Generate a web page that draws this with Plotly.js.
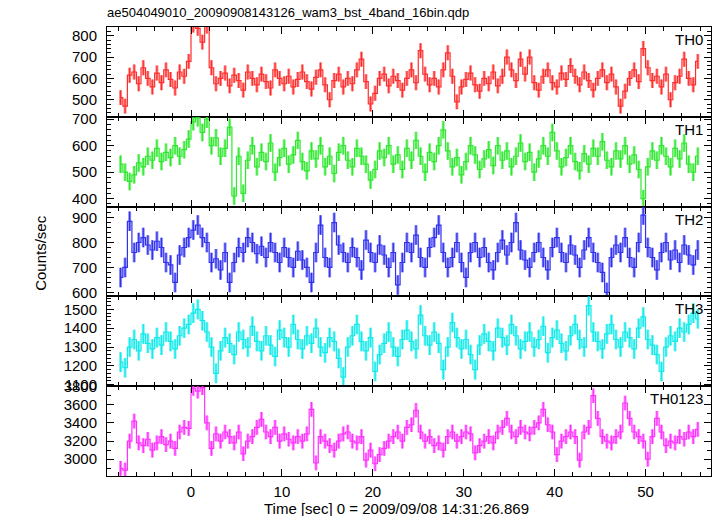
<!DOCTYPE html>
<html><head><meta charset="utf-8">
<script src="https://cdn.plot.ly/plotly-3.0.1.min.js"></script>
<style>body{margin:0;padding:0;background:#fff}#chart{width:717px;height:516px}</style>
</head><body><div id="chart"></div>
<script>
// time grid of the light curve: bin centres start and bin width [sec]
const binStart = -7.75;
const binWidth = 0.5;

const panelNames = ['TH0', 'TH1', 'TH2', 'TH3', 'TH0123'];

const th0 = [510,470,615,630,575,650,600,560,625,580,
640,595,555,630,610,680,850,835,770,845,
650,575,600,625,565,615,590,545,630,600,
570,620,585,555,640,600,575,610,560,595,
630,585,550,605,640,570,500,590,620,560,
600,575,640,690,585,480,530,600,620,565,
610,590,545,600,640,580,730,620,570,600,
560,640,720,610,490,560,595,625,570,540,
600,575,630,565,610,700,640,590,690,620,
700,580,545,610,640,580,560,625,595,660,
610,570,630,590,545,600,640,580,620,560,
470,540,600,640,585,740,650,590,610,560,
620,500,580,610,690,600,570,680];

const th1 = [530,500,465,490,535,520,560,545,590,540,
575,555,600,560,585,625,690,705,650,700,
600,630,560,590,670,410,560,420,545,600,
520,575,540,610,500,555,590,530,565,620,
540,505,580,550,600,520,560,495,575,600,
545,520,590,560,530,470,510,580,555,600,
530,565,510,590,545,620,560,500,575,540,
600,660,580,520,555,490,540,600,565,510,
550,585,525,600,545,580,520,560,610,540,
575,500,550,600,560,650,580,520,555,600,
540,505,570,530,590,560,615,545,520,580,
550,600,530,565,510,400,520,580,545,600,
560,520,590,550,610,530,500,560];

const th2 = [660,700,885,760,800,820,790,770,805,780,
720,710,640,750,780,820,850,870,820,800,
720,735,690,760,640,720,780,760,820,800,
755,785,740,800,760,720,780,740,700,765,
730,700,640,760,870,740,700,880,790,760,
720,780,740,690,810,760,720,790,750,700,
760,630,720,800,760,830,740,700,780,820,
870,760,700,740,800,720,660,760,800,740,
780,720,690,760,810,750,800,880,770,730,
700,760,800,740,690,780,820,760,720,790,
750,700,770,820,760,720,680,600,740,790,
760,820,740,700,800,910,780,740,690,760,
800,730,770,720,790,750,710,770];

const th3 = [1220,1190,1300,1340,1280,1370,1320,1290,1350,1310,
1380,1330,1290,1360,1400,1420,1480,1500,1440,1380,
1300,1160,1280,1350,1320,1260,1380,1340,1300,1410,
1330,1280,1360,1310,1250,1390,1350,1300,1420,1340,
1290,1360,1320,1400,1300,1270,1350,1330,1240,1140,
1300,1360,1420,1330,1280,1350,1170,1260,1320,1380,
1300,1250,1340,1390,1330,1290,1470,1360,1310,1380,
1320,1180,1300,1430,1350,1290,1340,1260,1180,1310,
1370,1330,1280,1400,1350,1310,1420,1360,1290,1330,
1380,1300,1340,1410,1270,1350,1390,1320,1280,1360,
1420,1340,1300,1520,1380,1330,1290,1370,1420,1340,
1300,1380,1350,1290,1400,1460,1340,1310,1260,1170,
1300,1360,1330,1400,1380,1420,1480,1450];

const th0123 = [2900,2880,3200,3420,3180,3150,3220,3100,3180,3250,
3160,3200,3120,3300,3350,3340,3780,3750,3790,3400,
3120,3280,3200,3300,3250,3180,3300,3060,3200,3250,
3350,3440,3300,3250,3350,3200,3280,3220,3180,3250,
3200,3280,3550,2960,3250,3200,3150,3100,3200,3280,
3300,3200,3180,3250,2990,3100,2950,3050,3120,3200,
3250,3300,3200,3350,3380,3540,3300,3200,3250,3150,
3180,3100,3250,3300,3200,3250,3300,3280,3070,3150,
3200,3250,3180,3300,3350,3450,3300,3250,3350,3300,
3280,3350,3400,3550,3380,3300,3050,3200,3250,3300,
3250,2990,3300,3350,3700,3450,3250,3200,3180,3250,
3300,3620,3450,3300,3250,3200,3000,3250,3450,3300,
3150,3200,3180,3250,3220,3300,3250,3330];

// 1-sigma errors (counts/sec) per band
const errors = [35, 33, 39, 52, 81];

const series = [th0, th1, th2, th3, th0123];
const colors = ['#ff2e2e', '#2ee82e', '#3030f0', '#10eaea', '#ff30ff'];
const lightColors = ['rgba(255,46,46,0.55)', 'rgba(46,232,46,0.55)', 'rgba(48,48,240,0.55)', 'rgba(16,234,234,0.55)', 'rgba(255,48,255,0.55)'];
const yRanges = [[420, 841], [370, 709], [584, 944], [1092, 1569], [2815, 3805]];
const yDticks = [100, 100, 100, 100, 200];
const yMinor = [20, 20, 20, 20, 100];

const traces = [];
series.forEach((vals, k) => {
  const times = vals.map((_, i) => binStart + i * binWidth);
  const suffix = k === 0 ? '' : String(k + 1);
  // broad, light error bars underneath
  traces.push({
    type: 'scatter', mode: 'none', x: times, y: vals,
    error_y: {type: 'constant', value: errors[k], width: 0, thickness: 3, color: lightColors[k]},
    xaxis: 'x' + suffix, yaxis: 'y' + suffix, hoverinfo: 'skip', showlegend: false
  });
  // step line with thin solid error bars
  traces.push({
    type: 'scatter', mode: 'lines', x: times, y: vals,
    line: {shape: 'hvh', width: 1.2, color: colors[k]},
    error_y: {type: 'constant', value: errors[k], width: 0, thickness: 1.2, color: colors[k]},
    xaxis: 'x' + suffix, yaxis: 'y' + suffix, hoverinfo: 'skip', showlegend: false
  });
});

const fontFam = 'Liberation Sans, Arial, Helvetica, sans-serif';
const layout = {
  width: 717, height: 516,
  margin: {l: 107, r: 6, t: 27, b: 40},
  paper_bgcolor: '#fff', plot_bgcolor: '#fff',
  font: {family: fontFam, size: 15, color: '#000'},
  title: {text: 'ae504049010_20090908143126_wam3_bst_4band_16bin.qdp',
          x: 107 / 717, xanchor: 'left', xref: 'container',
          y: 1 - 12 / 516, yanchor: 'middle', yref: 'container',
          font: {size: 13, family: fontFam, color: '#000'}},
  annotations: [],
  showlegend: false
};

for (let k = 0; k < 5; k++) {
  const suffix = k === 0 ? '' : String(k + 1);
  const d0 = (4 - k) * 0.2, d1 = d0 + 0.2;
  layout['xaxis' + suffix] = {
    domain: [0, 1], anchor: 'y' + suffix, range: [-9.24, 57.2],
    showline: true, linecolor: '#000', linewidth: 1, mirror: 'ticks',
    ticks: 'inside', ticklen: 7, tickwidth: 1, tickcolor: '#000',
    tick0: 0, dtick: 10,
    minor: {ticks: 'inside', ticklen: 4, dtick: 2, tickcolor: '#000', tickwidth: 1},
    showgrid: false, zeroline: false,
    showticklabels: k === 4, ticklabelstandoff: 2,
    tickfont: {size: 15, color: '#000', family: fontFam}
  };
  if (k > 0) layout['xaxis' + suffix].matches = 'x';
  layout['yaxis' + suffix] = {
    domain: [d0, d1], anchor: 'x' + suffix, range: yRanges[k],
    showline: true, linecolor: '#000', linewidth: 1, mirror: 'ticks',
    ticks: 'inside', ticklen: 7, tickwidth: 1, tickcolor: '#000',
    tick0: 0, dtick: yDticks[k],
    minor: {ticks: 'inside', ticklen: 4, dtick: yMinor[k], tickcolor: '#000', tickwidth: 1},
    showgrid: false, zeroline: false, ticklabelstandoff: 6,
    tickfont: {size: 15, color: '#000', family: fontFam}
  };
  layout.annotations.push({
    text: panelNames[k], xref: 'paper', yref: 'paper', x: 1, y: d1,
    xanchor: 'right', yanchor: 'top', xshift: -6, yshift: -2, showarrow: false,
    font: {size: 15, color: '#000', family: fontFam}
  });
}
layout.annotations.push({
  text: 'Time [sec] 0 = 2009/09/08 14:31:26.869', xref: 'paper', yref: 'paper',
  x: 0.48, y: -32 / 449, xanchor: 'center', yanchor: 'middle', showarrow: false,
  font: {size: 15, color: '#000', family: fontFam}
});
layout.annotations.push({
  text: 'Counts/sec', xref: 'paper', yref: 'paper',
  x: -66 / 604, y: 0.497, xanchor: 'center', yanchor: 'middle', textangle: -90,
  showarrow: false, font: {size: 15, color: '#000', family: fontFam}
});

Plotly.newPlot('chart', traces, layout, {staticPlot: true, displayModeBar: false});
</script>
</body></html>
